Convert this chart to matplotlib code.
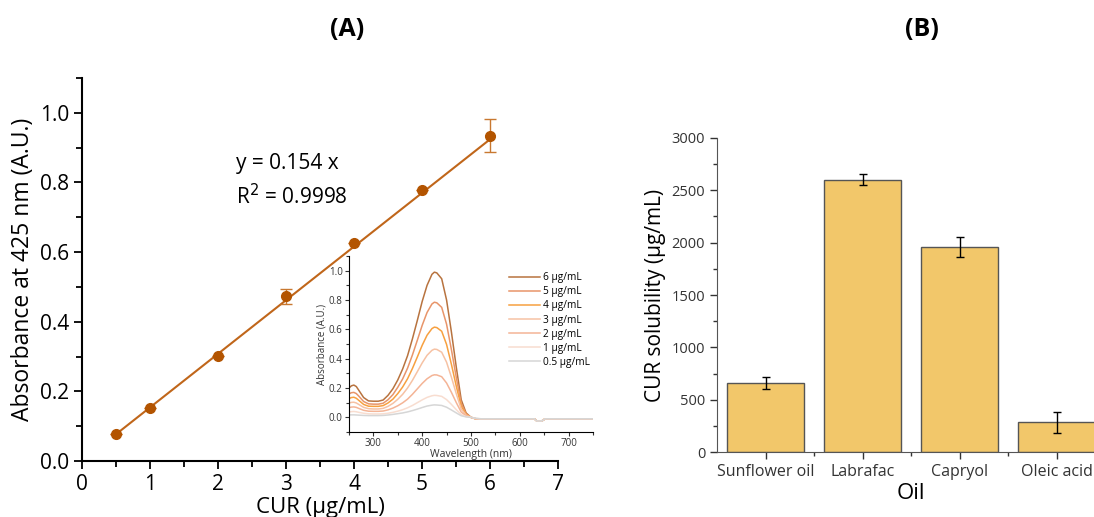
import matplotlib
matplotlib.use("Agg")
import matplotlib.pyplot as plt
from matplotlib.ticker import MultipleLocator

plt.rcParams['font.family'] = ['Open Sans', 'DejaVu Sans']

# panel A: calibration
conc = [0.5, 1, 2, 3, 4, 5, 6]
absorb = [0.077, 0.152, 0.301, 0.473, 0.625, 0.779, 0.934]
absorb_err = [0.0, 0.0, 0.0, 0.021, 0.0, 0.0, 0.047]
slope = 0.154
fit_x = [0.5, 6]

# inset: spectra
wl = [250, 255, 260, 265, 270, 280, 290, 300, 310, 320, 330, 340, 350, 360, 370, 380,
      390, 400, 410, 420, 425, 430, 440, 450, 460, 470, 480, 490, 500, 510, 520,
      630, 635, 645, 652, 750]
spec_6 = [0.200, 0.215, 0.220, 0.210, 0.185, 0.135, 0.112, 0.110, 0.110, 0.118, 0.150, 0.195,
          0.255, 0.330, 0.420, 0.535, 0.660, 0.790, 0.900, 0.975, 0.990, 0.985, 0.945, 0.800,
          0.580, 0.340, 0.120, 0.030, 0.000, -0.010, -0.010, -0.010, -0.025, -0.025, -0.010, -0.010]
spec_5 = [0.160, 0.168, 0.170, 0.162, 0.145, 0.108, 0.092, 0.090, 0.090, 0.096, 0.120, 0.155,
          0.205, 0.262, 0.335, 0.425, 0.525, 0.627, 0.715, 0.773, 0.785, 0.781, 0.750, 0.635,
          0.460, 0.270, 0.095, 0.024, 0.000, -0.010, -0.010, -0.010, -0.025, -0.025, -0.010, -0.010]
spec_4 = [0.128, 0.135, 0.137, 0.130, 0.116, 0.088, 0.076, 0.075, 0.075, 0.080, 0.098, 0.124,
          0.162, 0.207, 0.263, 0.333, 0.411, 0.491, 0.560, 0.605, 0.615, 0.612, 0.587, 0.497,
          0.360, 0.211, 0.075, 0.019, 0.000, -0.010, -0.010, -0.010, -0.025, -0.025, -0.010, -0.010]
spec_3 = [0.097, 0.102, 0.103, 0.098, 0.088, 0.068, 0.059, 0.057, 0.057, 0.061, 0.075, 0.095,
          0.123, 0.157, 0.200, 0.252, 0.311, 0.371, 0.423, 0.457, 0.465, 0.463, 0.444, 0.376,
          0.273, 0.160, 0.057, 0.015, 0.000, -0.010, -0.010, -0.010, -0.025, -0.025, -0.010, -0.010]
spec_2 = [0.066, 0.070, 0.071, 0.068, 0.061, 0.048, 0.042, 0.041, 0.041, 0.043, 0.051, 0.063,
          0.079, 0.099, 0.124, 0.157, 0.194, 0.231, 0.263, 0.285, 0.290, 0.289, 0.277, 0.234,
          0.170, 0.100, 0.036, 0.010, 0.000, -0.010, -0.010, -0.010, -0.025, -0.025, -0.010, -0.010]
spec_1 = [0.036, 0.039, 0.040, 0.038, 0.034, 0.028, 0.024, 0.023, 0.023, 0.024, 0.028, 0.034,
          0.042, 0.052, 0.065, 0.081, 0.100, 0.119, 0.136, 0.147, 0.150, 0.149, 0.143, 0.121,
          0.088, 0.052, 0.019, 0.005, 0.000, -0.008, -0.010, -0.010, -0.025, -0.025, -0.010, -0.010]
spec_05 = [0.016, 0.017, 0.017, 0.016, 0.015, 0.013, 0.012, 0.012, 0.012, 0.013, 0.016, 0.020,
           0.025, 0.030, 0.037, 0.046, 0.056, 0.067, 0.077, 0.083, 0.085, 0.084, 0.081, 0.069,
           0.050, 0.030, 0.011, 0.003, 0.000, -0.006, -0.010, -0.010, -0.025, -0.025, -0.010, -0.010]
spectra = [spec_6, spec_5, spec_4, spec_3, spec_2, spec_1, spec_05]
spec_labels = ["6 µg/mL", "5 µg/mL", "4 µg/mL", "3 µg/mL", "2 µg/mL", "1 µg/mL", "0.5 µg/mL"]
spec_colors = ["#b8733f", "#e8956a", "#f7a040", "#f6c2a4", "#f4b496", "#f8ddd0", "#d6d6d6"]

# panel B: solubility
oils = ["Sunflower oil", "Labrafac", "Capryol", "Oleic acid"]
solub = [658, 2600, 1960, 285]
solub_err = [57, 53, 95, 100]

fig = plt.figure(figsize=(10.94, 5.17), dpi=100)

# ---- (A)
ax = fig.add_axes([0.075, 0.1083, 0.4351, 0.7408])
ax.plot(fit_x, [slope * v for v in fit_x], color="#c0661a", lw=1.5, zorder=2)
ax.errorbar(conc, absorb, yerr=absorb_err, fmt="o", color="#b35400", ms=7,
            ecolor="#c87830", elinewidth=1, capsize=4, zorder=3)
ax.set_xlim(0, 7)
ax.set_ylim(0, 1.1)
ax.xaxis.set_major_locator(MultipleLocator(1))
ax.xaxis.set_minor_locator(MultipleLocator(0.5))
ax.yaxis.set_major_locator(MultipleLocator(0.2))
ax.yaxis.set_minor_locator(MultipleLocator(0.1))
ax.tick_params(which="both", direction="out", width=1.3, labelsize=15)
ax.tick_params(which="major", length=6)
ax.tick_params(which="minor", length=4)
for s in ["top", "right"]:
    ax.spines[s].set_visible(False)
for s in ["left", "bottom"]:
    ax.spines[s].set_linewidth(1.5)
ax.set_ylabel("Absorbance at 425 nm (A.U.)", fontsize=16.5, labelpad=3)
ax.set_xlabel("CUR (µg/mL)", fontsize=16, labelpad=1)
ax.text(2.26, 0.854, "y = 0.154 x", fontsize=15, va="center")
ax.text(2.26, 0.759, "R$^2$ = 0.9998", fontsize=15, va="center")

# inset
axi = fig.add_axes([0.319, 0.1644, 0.223, 0.3404])
for ys, lab, c in zip(spectra, spec_labels, spec_colors):
    axi.plot(wl, ys, color=c, lw=1.1, label=lab)
axi.set_xlim(250, 750)
axi.set_ylim(-0.1, 1.1)
axi.xaxis.set_major_locator(MultipleLocator(100))
axi.xaxis.set_minor_locator(MultipleLocator(50))
axi.yaxis.set_major_locator(MultipleLocator(0.2))
axi.yaxis.set_minor_locator(MultipleLocator(0.1))
axi.tick_params(which="both", direction="out", width=0.8, labelsize=7, colors="#333333", pad=1.5)
axi.tick_params(which="major", length=3)
axi.tick_params(which="minor", length=2)
axi.patch.set_alpha(0)
for s in ["top", "right"]:
    axi.spines[s].set_visible(False)
axi.set_ylabel("Absorbance (A.U.)", fontsize=7, labelpad=1, color="#333333")
axi.set_xlabel("Wavelength (nm)", fontsize=7.5, labelpad=0, color="#333333")
axi.legend(loc="upper left", bbox_to_anchor=(0.64, 0.93), frameon=False, fontsize=7.3,
           handlelength=3, labelspacing=0.3, handletextpad=0.3, borderaxespad=0)

# ---- (B)
bx = fig.add_axes([0.6554, 0.1257, 0.3547, 0.6074])
pos = range(1, len(oils) + 1)
bx.bar(pos, solub, width=0.8, color="#f2c76a", edgecolor="#555555", lw=1)
bx.errorbar(pos, solub, yerr=solub_err, fmt="none", ecolor="black", elinewidth=1, capsize=3)
bx.set_xlim(0.5, 4.5)
bx.set_ylim(0, 3000)
bx.set_xticks(list(pos))
bx.set_xticklabels(oils)
bx.set_xticks([1.5, 2.5, 3.5], minor=True)
bx.yaxis.set_major_locator(MultipleLocator(500))
bx.yaxis.set_minor_locator(MultipleLocator(250))
bx.tick_params(which="both", direction="out", width=1, colors="#333333")
bx.tick_params(which="major", length=5)
bx.tick_params(which="minor", length=3)
bx.tick_params(axis="y", labelsize=10.5)
bx.tick_params(axis="x", labelsize=11.5)
for s in ["top", "right"]:
    bx.spines[s].set_visible(False)
for s in ["left", "bottom"]:
    bx.spines[s].set_color("#555555")
bx.set_ylabel("CUR solubility (µg/mL)", fontsize=15, labelpad=4)
bx.set_xlabel("Oil", fontsize=16, labelpad=2)

fig.text(0.317, 0.942, "(A)", fontsize=18, fontweight="bold", ha="center", va="center")
fig.text(0.843, 0.942, "(B)", fontsize=18, fontweight="bold", ha="center", va="center")

fig.savefig("out.png", dpi=100)
